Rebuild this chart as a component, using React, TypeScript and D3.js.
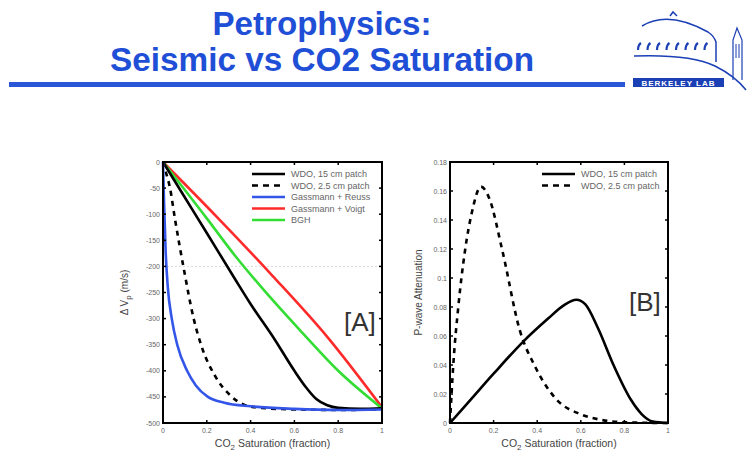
import React from "react";
import * as d3 from "d3";

// ---- data ----
const satTicks = [0, 0.2, 0.4, 0.6, 0.8, 1];
const dvpTicks = [0, -50, -100, -150, -200, -250, -300, -350, -400, -450, -500];
const attTicks = [0, 0.02, 0.04, 0.06, 0.08, 0.1, 0.12, 0.14, 0.16, 0.18];

// panel A: delta Vp (m/s) vs CO2 saturation
const wdo15A = [
  [0, 0], [0.1, -68], [0.2, -136], [0.33, -225], [0.4, -272], [0.51, -340],
  [0.6, -400], [0.65, -430], [0.7, -454], [0.75, -466], [0.8, -471],
  [0.9, -473], [1, -472],
];
const wdo25A = [
  [0, 0], [0.01, -15], [0.032, -50], [0.055, -110], [0.096, -207], [0.14, -300],
  [0.18, -358], [0.235, -408], [0.315, -450], [0.37, -465], [0.45, -471],
  [0.6, -474], [0.8, -475], [1, -474],
];
const reussA = [
  [0, 0], [0.005, -80], [0.012, -170], [0.022, -240], [0.04, -300], [0.065, -350],
  [0.11, -400], [0.15, -428], [0.205, -450], [0.28, -461], [0.4, -468],
  [0.6, -473], [0.8, -475], [1, -474],
];
const voigtA = [
  [0, 0], [0.25, -107], [0.5, -218], [0.75, -335], [1, -470],
];
const bghA = [
  [0, 0], [0.2, -108], [0.33, -180], [0.46, -245], [0.625, -322], [0.8, -400], [1, -472],
];

// panel B: P-wave attenuation vs CO2 saturation
const wdo15B = [
  [0, 0], [0.1, 0.017], [0.2, 0.034], [0.335, 0.056], [0.45, 0.072], [0.52, 0.081],
  [0.58, 0.085], [0.62, 0.082], [0.68, 0.065], [0.75, 0.04], [0.83, 0.016],
  [0.88, 0.006], [0.93, 0.001], [1, 0],
];
const wdo25B = [
  [0, 0], [0.015, 0.04], [0.038, 0.08], [0.069, 0.119], [0.1, 0.145], [0.142, 0.163],
  [0.18, 0.155], [0.24, 0.119], [0.32, 0.064], [0.39, 0.039], [0.49, 0.016],
  [0.6, 0.006], [0.7, 0.002], [0.8, 0.0005], [1, 0],
];

const seriesA = [
  { name: "Gassmann + Voigt", data: voigtA, color: "#ff2a2a", dash: null },
  { name: "BGH", data: bghA, color: "#33dd33", dash: null },
  { name: "WDO, 15 cm patch", data: wdo15A, color: "#000", dash: null },
  { name: "WDO, 2.5 cm patch", data: wdo25A, color: "#000", dash: "5,5" },
  { name: "Gassmann + Reuss", data: reussA, color: "#3355e8", dash: null },
];
const legendA = ["WDO, 15 cm patch", "WDO, 2.5 cm patch", "Gassmann + Reuss", "Gassmann + Voigt", "BGH"];

const seriesB = [
  { name: "WDO, 15 cm patch", data: wdo15B, color: "#000", dash: null },
  { name: "WDO, 2.5 cm patch", data: wdo25B, color: "#000", dash: "5,5" },
];

const tickFont = "Liberation Sans, Arial, sans-serif";

function Panel({ x0, x1, y0, y1, yDomain, yTicks, yFmt, series, legend, legendX, tag, tagX, tagY, yLabel, gridAt }) {
  const x = d3.scaleLinear().domain([0, 1]).range([x0, x1]);
  const y = d3.scaleLinear().domain(yDomain).range([y1, y0]);
  const line = d3.line().x((d) => x(d[0])).y((d) => y(d[1])).curve(d3.curveMonotoneX);
  const byName = {};
  series.forEach((s) => (byName[s.name] = s));
  const cx = (x0 + x1) / 2;
  const cy = (y0 + y1) / 2;
  return (
    <g>
      {gridAt !== undefined && (
        <line x1={x0} x2={x1} y1={y(gridAt)} y2={y(gridAt)} stroke="#d8d8d8" strokeDasharray="2,2" strokeWidth={1} />
      )}
      {series.map((s) => (
        <path key={s.name} d={line(s.data)} fill="none" stroke={s.color} strokeWidth={2.6}
          strokeDasharray={s.dash || undefined} />
      ))}
      {/* frame and inward ticks */}
      <rect x={x0} y={y0} width={x1 - x0} height={y1 - y0} fill="none" stroke="#000" strokeWidth={2} />
      {satTicks.map((t) => (
        <g key={"x" + t}>
          <line x1={x(t)} x2={x(t)} y1={y1} y2={y1 - 3} stroke="#000" strokeWidth={1.5} />
          <line x1={x(t)} x2={x(t)} y1={y0} y2={y0 + 3} stroke="#000" strokeWidth={1.5} />
          <text x={x(t)} y={y1 + 10} fontSize={7} fill="#666" textAnchor="middle" fontFamily={tickFont}>{String(t)}</text>
        </g>
      ))}
      {yTicks.map((t) => (
        <g key={"y" + t}>
          <line x1={x0} x2={x0 + 3} y1={y(t)} y2={y(t)} stroke="#000" strokeWidth={1.5} />
          <line x1={x1} x2={x1 - 3} y1={y(t)} y2={y(t)} stroke="#000" strokeWidth={1.5} />
          <text x={x0 - 3} y={y(t) + 2.5} fontSize={7} fill="#666" textAnchor="end" fontFamily={tickFont}>{yFmt(t)}</text>
        </g>
      ))}
      <text x={cx} y={y1 + 24} fontSize={10.5} fill="#444" textAnchor="middle" fontFamily={tickFont}>
        CO<tspan dy={3} fontSize={8}>2</tspan><tspan dy={-3}> Saturation (fraction)</tspan>
      </text>
      <g transform={`translate(${yLabel.x},${cy}) rotate(-90)`}>{yLabel.node}</g>
      {legend.map((name, i) => {
        const s = byName[name];
        const ly = 174 + i * 11.5;
        return (
          <g key={name}>
            <line x1={legendX} x2={legendX + 33} y1={ly} y2={ly} stroke={s.color} strokeWidth={2.6}
              strokeDasharray={s.dash ? "6,5" : undefined} />
            <text x={legendX + 39} y={ly + 3} fontSize={9} fill="#666" fontFamily={tickFont}>{name}</text>
          </g>
        );
      })}
      <text x={tagX} y={tagY} fontSize={26} fill="#333" fontFamily={tickFont}>{tag}</text>
    </g>
  );
}

function Logo() {
  const blue = "#1b3fb5";
  const marks = d3.range(8);
  return (
    <g>
      <path d="M642,26 Q668,10 708,32 Q714,36 716,42 L716,62" fill="none" stroke={blue} strokeWidth={1.5} />
      <path d="M670,16 L673,12 L677,16" fill="none" stroke={blue} strokeWidth={1.5} />
      {marks.map((i) => (
        <path key={i} d={`M${638 + i * 9.5},50 Q${638 + i * 9.5},45 ${641 + i * 9.5},43`} fill="none" stroke={blue} strokeWidth={2.2} />
      ))}
      <path d="M634,56 Q690,54 715,66 Q735,76 746,90" fill="none" stroke={blue} strokeWidth={1.5} />
      <path d="M733,80 L733,40 L737,28 L742,40 L742,80" fill="none" stroke={blue} strokeWidth={1.2} />
      <line x1={736} x2={736} y1={44} y2={58} stroke={blue} strokeWidth={1} />
      <line x1={739} x2={739} y1={44} y2={58} stroke={blue} strokeWidth={1} />
      <rect x={633} y={78} width={91} height={9} fill={blue} />
      <text x={678.5} y={85.5} fontSize={8} fill="#fff" fontWeight="bold" textAnchor="middle"
        fontFamily={tickFont} letterSpacing={1}>BERKELEY LAB</text>
    </g>
  );
}

export default function App() {
  const fmtA = (t) => String(t);
  const fmtB = (t) => (t === 0 ? "0" : String(+t.toFixed(2)));
  return (
    <div style={{ position: "absolute", left: 0, top: 0 }}>
      <svg width={748} height={472} viewBox="0 0 748 472" style={{ display: "block", background: "#fff" }}>
        <rect width={748} height={472} fill="#fff" />
        <g fontFamily={tickFont} fontWeight="bold" fill="#1f4fd6" textAnchor="middle" fontSize={33}>
          <text x={322} y={35} textLength={219} lengthAdjust="spacingAndGlyphs">Petrophysics:</text>
          <text x={322} y={71} textLength={424} lengthAdjust="spacingAndGlyphs">Seismic vs CO2 Saturation</text>
        </g>
        <rect x={9} y={82} width={616} height={5} fill="#2a56d8" />
        <Logo />
        <Panel
          x0={163} x1={382} y0={162} y1={423}
          yDomain={[-500, 0]} yTicks={dvpTicks} yFmt={fmtA}
          series={seriesA} legend={legendA} legendX={252}
          tag="[A]" tagX={344} tagY={331} gridAt={-200}
          yLabel={{
            x: 128,
            node: (
              <text fontSize={10} fill="#444" textAnchor="middle" fontFamily={tickFont}>
                Δ V<tspan dy={3} fontSize={8}>p</tspan><tspan dy={-3}> (m/s)</tspan>
              </text>
            ),
          }}
        />
        <Panel
          x0={450} x1={668} y0={162} y1={423}
          yDomain={[0, 0.18]} yTicks={attTicks} yFmt={fmtB}
          series={seriesB} legend={["WDO, 15 cm patch", "WDO, 2.5 cm patch"]} legendX={542}
          tag="[B]" tagX={629} tagY={311}
          yLabel={{
            x: 422,
            node: (
              <text fontSize={10} fill="#444" textAnchor="middle" fontFamily={tickFont}>P-wave Attenuation</text>
            ),
          }}
        />
      </svg>
    </div>
  );
}
